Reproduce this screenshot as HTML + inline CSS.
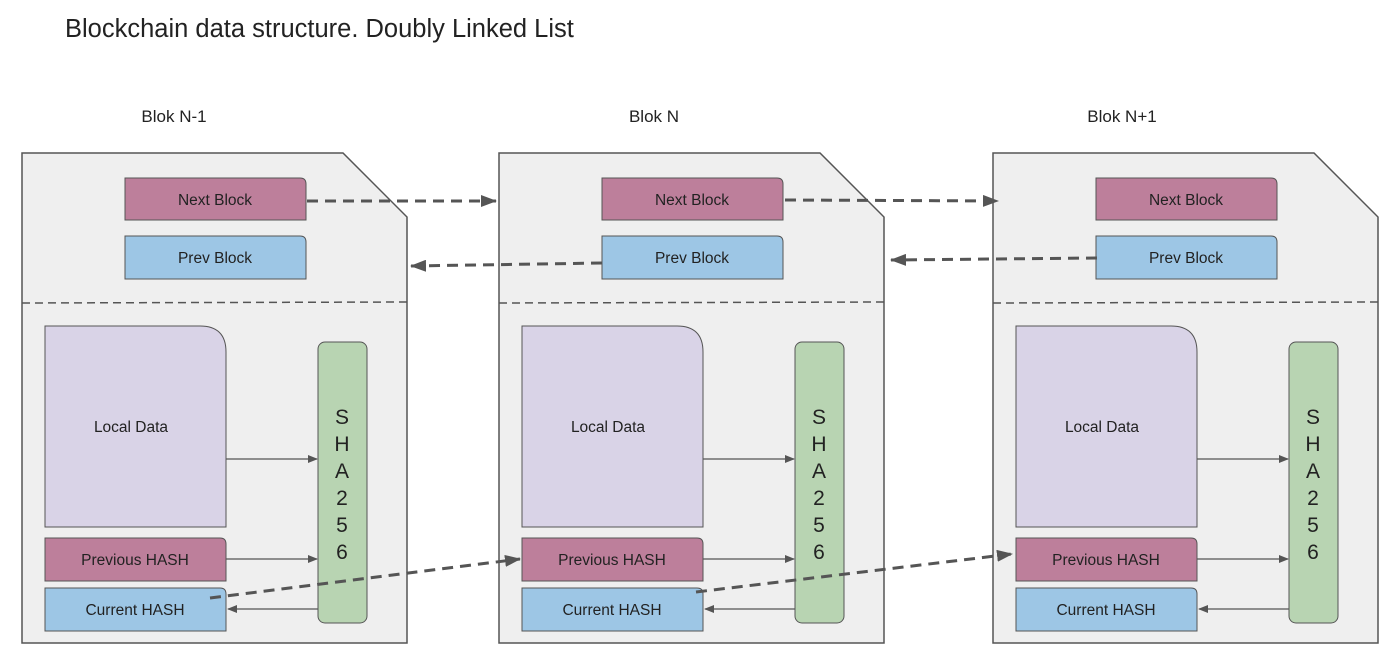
<!DOCTYPE html>
<html><head><meta charset="utf-8"><style>
html,body{margin:0;padding:0;background:#fff;}
svg{display:block;font-family:"Liberation Sans",Arial,sans-serif;}
</style></head><body>
<svg width="1400" height="671" viewBox="0 0 1400 671" xmlns="http://www.w3.org/2000/svg">
<defs>
<marker id="ah" markerWidth="10" markerHeight="8" refX="9" refY="4" orient="auto" markerUnits="userSpaceOnUse"><path d="M0,0 L10,4 L0,8 z" fill="#555"/></marker>
<marker id="ahb" markerWidth="16" markerHeight="12" refX="15" refY="6" orient="auto" markerUnits="userSpaceOnUse"><path d="M0,0 L16,6 L0,12 z" fill="#555"/></marker>
</defs>
<rect width="1400" height="671" fill="#fff"/>
<text x="65" y="37" font-size="25.5" fill="#222">Blockchain data structure. Doubly Linked List</text>
<text x="174" y="122" font-size="17" fill="#222" text-anchor="middle">Blok N-1</text>
<text x="654" y="122" font-size="17" fill="#222" text-anchor="middle">Blok N</text>
<text x="1122" y="122" font-size="17" fill="#222" text-anchor="middle">Blok N+1</text>

<g id="b1">
<path d="M22,153 L343,153 L407,217 L407,643 L22,643 Z" fill="#efefef" stroke="#555" stroke-width="1.5"/>
<line x1="22" y1="303" x2="407" y2="302" stroke="#555" stroke-width="1.5" stroke-dasharray="8,5"/>
<path d="M125,178 H300 Q306,178 306,184 V220 H125 Z" fill="#bd7f9b" stroke="#555"/>
<path d="M125,236 H300 Q306,236 306,242 V279 H125 Z" fill="#9dc6e5" stroke="#555"/>
<path d="M45,326 H200 Q226,326 226,352 V527 H45 Z" fill="#d9d3e7" stroke="#555"/>
<path d="M45,538 H220 Q226,538 226,544 V581 H45 Z" fill="#bd7f9b" stroke="#555"/>
<path d="M45,588 H220 Q226,588 226,594 V631 H45 Z" fill="#9dc6e5" stroke="#555"/>
<rect x="318" y="342" width="49" height="281" rx="7" fill="#b8d4b2" stroke="#555"/>
<line x1="226" y1="459" x2="317" y2="459" stroke="#555" stroke-width="1.2" marker-end="url(#ah)"/>
<line x1="226" y1="559" x2="317" y2="559" stroke="#555" stroke-width="1.2" marker-end="url(#ah)"/>
<line x1="318" y1="609" x2="228" y2="609" stroke="#555" stroke-width="1.2" marker-end="url(#ah)"/>
</g>
<use href="#b1" transform="translate(477,0)"/>
<use href="#b1" transform="translate(971,0)"/>

<g font-size="15.5" fill="#222" text-anchor="middle">
<text x="215" y="205">Next Block</text>
<text x="215" y="263">Prev Block</text>
<text x="131" y="432">Local Data</text>
<text x="135" y="565">Previous HASH</text>
<text x="135" y="615">Current HASH</text>
<text x="692" y="205">Next Block</text>
<text x="692" y="263">Prev Block</text>
<text x="608" y="432">Local Data</text>
<text x="612" y="565">Previous HASH</text>
<text x="612" y="615">Current HASH</text>
<text x="1186" y="205">Next Block</text>
<text x="1186" y="263">Prev Block</text>
<text x="1102" y="432">Local Data</text>
<text x="1106" y="565">Previous HASH</text>
<text x="1106" y="615">Current HASH</text>
</g>
<g font-size="21" fill="#222" text-anchor="middle">
<text x="342" y="424">S</text><text x="342" y="451">H</text><text x="342" y="478">A</text><text x="342" y="505">2</text><text x="342" y="532">5</text><text x="342" y="559">6</text>
<text x="819" y="424">S</text><text x="819" y="451">H</text><text x="819" y="478">A</text><text x="819" y="505">2</text><text x="819" y="532">5</text><text x="819" y="559">6</text>
<text x="1313" y="424">S</text><text x="1313" y="451">H</text><text x="1313" y="478">A</text><text x="1313" y="505">2</text><text x="1313" y="532">5</text><text x="1313" y="559">6</text>
</g>

<g stroke="#555" stroke-width="3" stroke-dasharray="11,7" fill="none">
<line x1="307" y1="201" x2="496" y2="201" marker-end="url(#ahb)"/>
<line x1="602" y1="263" x2="411" y2="266" marker-end="url(#ahb)"/>
<line x1="785" y1="200" x2="998" y2="201" marker-end="url(#ahb)"/>
<line x1="1097" y1="258" x2="891" y2="260" marker-end="url(#ahb)"/>
<line x1="210" y1="598" x2="520" y2="559" marker-end="url(#ahb)"/>
<line x1="696" y1="592" x2="1012" y2="554" marker-end="url(#ahb)"/>
</g>
</svg>
</body></html>
